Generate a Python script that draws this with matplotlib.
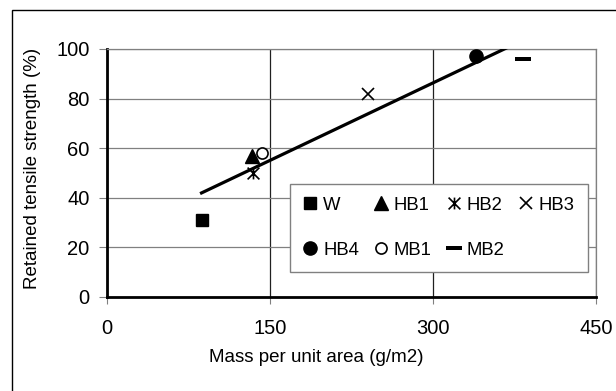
import numpy as np
import matplotlib
matplotlib.use("Agg")
import matplotlib.pyplot as plt
from matplotlib.path import Path
from matplotlib.patches import Rectangle

plt.rcParams['font.family'] = ['Liberation Sans', 'DejaVu Sans']

# ----- Data -----
names = ["W", "HB1", "HB2", "HB3", "HB4", "MB1", "MB2"]
mass = [87, 133, 134, 240, 340, 143, 383]          # g/m2
retained = [31, 57, 50, 82, 97, 58, 96]             # %

x_ticks = [0, 150, 300, 450]
y_ticks = [0, 20, 40, 60, 80, 100]

# custom markers (Excel-style star and dash)
star = Path([(-1, -1), (1, 1), (-1, 1), (1, -1), (0, -1), (0, 1)],
            [Path.MOVETO, Path.LINETO, Path.MOVETO, Path.LINETO, Path.MOVETO, Path.LINETO])
dash = Path([(-1, -0.3), (1, -0.3), (1, 0.3), (-1, 0.3), (-1, -0.3)],
            [Path.MOVETO, Path.LINETO, Path.LINETO, Path.LINETO, Path.CLOSEPOLY])

styles = {
    "W":   dict(marker='s', ms=9, mfc='black', mec='black'),
    "HB1": dict(marker='^', ms=10, mfc='black', mec='black'),
    "HB2": dict(marker=star, ms=8.5, mfc='none', mec='black', mew=1.2),
    "HB3": dict(marker='x', ms=9, mfc='none', mec='black', mew=1.2),
    "HB4": dict(marker='o', ms=9.5, mfc='black', mec='black'),
    "MB1": dict(marker='o', ms=8, mfc='white', mec='black', mew=1.2),
    "MB2": dict(marker=dash, ms=11, mfc='black', mec='black', mew=0),
}

fig = plt.figure(figsize=(6.16, 3.91), dpi=100)
ax = fig.add_axes([107 / 616, 1 - 297 / 391, 489 / 616, 248 / 391])

# outer chart border
fig.patches.append(Rectangle((12 / 616, -0.05), 1.2, 1 - 10 / 391 + 0.05,
                             transform=fig.transFigure, fill=False,
                             edgecolor='black', linewidth=1.0))

handles = {}
for n, xv, yv in zip(names, mass, retained):
    h, = ax.plot([xv], [yv], linestyle='None', label=n, zorder=4, **styles[n])
    handles[n] = h

# linear trend line through all points
k, b = np.polyfit(mass, retained, 1)
xl = np.array([min(mass), max(mass)])
ax.plot(xl, k * xl + b, color='black', linewidth=2.3, zorder=3)

ax.set_xlim(0, 450)
ax.set_ylim(0, 100)
ax.set_xticks(x_ticks)
ax.set_yticks(y_ticks)
ax.tick_params(labelsize=14.5, direction='out', width=0.8, color='#808080')
ax.tick_params(axis='x', length=5, pad=10.5)
ax.tick_params(axis='y', length=6, pad=6.5)
ax.yaxis.grid(True, color='#808080', linewidth=0.9)
ax.xaxis.grid(True, color='#202020', linewidth=0.9)
ax.set_axisbelow(True)

for s in ['left', 'bottom']:
    ax.spines[s].set_linewidth(2)
    ax.spines[s].set_color('black')
for s in ['top', 'right']:
    ax.spines[s].set_linewidth(0.9)
    ax.spines[s].set_color('#808080')

fig.text(316 / 616, 1 - 357 / 391, "Mass per unit area (g/m2)", fontsize=13.5,
         ha='center', va='center')
fig.text(33 / 616, 1 - 168 / 391, "Retained tensile strength (%)", fontsize=13.5,
         ha='center', va='center', rotation=90)

# legend laid out row-wise like the original: W HB1 HB2 HB3 / HB4 MB1 MB2
order = ["W", "HB4", "HB1", "MB1", "HB2", "MB2", "HB3"]
leg = ax.legend([handles[n] for n in order], order, ncol=4,
                loc='upper left', bbox_to_anchor=(290 / 616, 1 - 184 / 391),
                bbox_transform=fig.transFigure, borderaxespad=0,
                fontsize=13.3, frameon=True, fancybox=False, framealpha=1,
                edgecolor='#808080', handlelength=0.8, handletextpad=0.3,
                columnspacing=0.78, labelspacing=1.5, borderpad=0.7)
leg.get_frame().set_linewidth(1.0)

fig.savefig("out.png", dpi=100)
